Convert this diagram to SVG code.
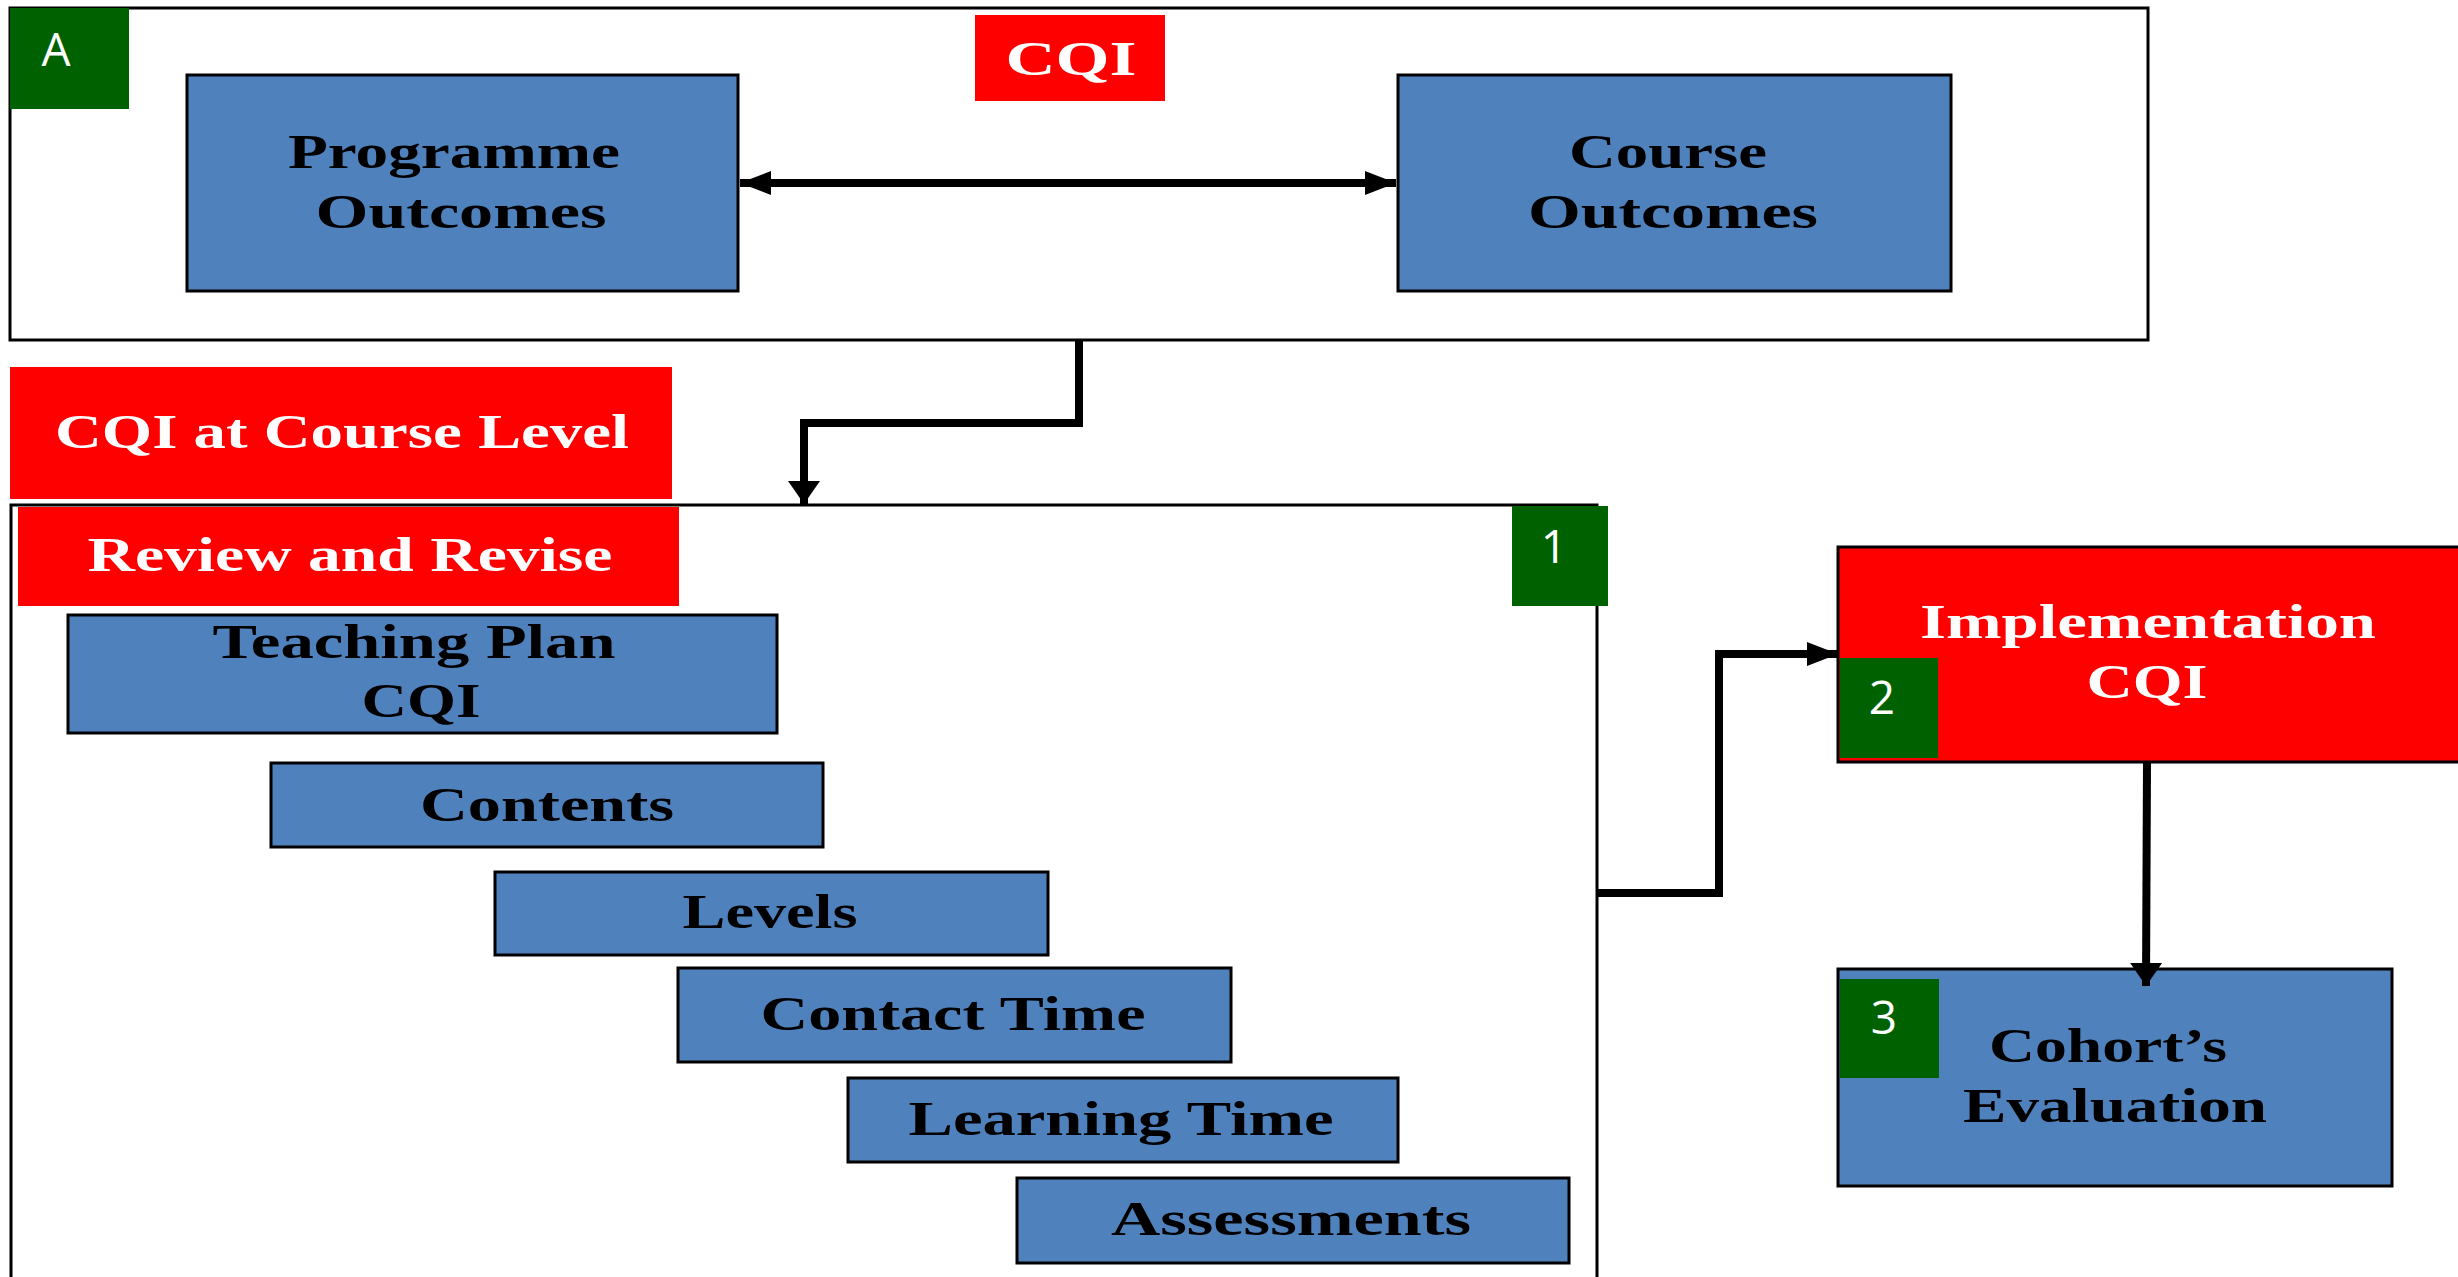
<svg xmlns="http://www.w3.org/2000/svg" width="2458" height="1277" viewBox="0 0 2458 1277">
<style>
.frame{fill:#fff;stroke:#000;stroke-width:3}
.blue{fill:#4F81BD;stroke:#000;stroke-width:3}
.red{fill:#FF0000}
.redb{fill:#FF0000;stroke:#000;stroke-width:3}
.green{fill:#006100}
.t{font-family:"Liberation Serif",serif;font-weight:bold;font-size:49px;fill:#000;text-anchor:middle}
.w{fill:#FFFDFD;font-weight:bold}
.g{font-family:"Open Sans","Liberation Sans",sans-serif;font-size:46px;fill:#fff;text-anchor:middle}
.c{fill:none;stroke:#000;stroke-width:8}
</style>
<defs>
<marker id="ah" markerUnits="userSpaceOnUse" markerWidth="32" markerHeight="26" refX="31" refY="13" orient="auto-start-reverse">
<path d="M0,1 L31,13 L0,25 Z" fill="#000"/>
</marker>
<marker id="ahs" markerUnits="userSpaceOnUse" markerWidth="24" markerHeight="34" refX="23" refY="17" orient="auto">
<path d="M0,1 L23,17 L0,33 Z" fill="#000"/>
</marker>
</defs>
<rect width="2458" height="1277" fill="#fff"/>
<g id="frameA">
<rect class="frame" x="10" y="8" width="2138" height="332"/>
<rect class="green" x="10" y="8" width="119" height="101"/>
<text class="g" x="56" y="66">A</text>
</g>
<g id="cqi-top">
<rect class="red" x="975" y="15" width="190" height="86"/>
<text class="t w" x="1071" y="75" textLength="131" lengthAdjust="spacingAndGlyphs">CQI</text>
</g>
<g id="programme-outcomes">
<rect class="blue" x="187" y="75" width="551" height="216"/>
<text class="t" x="454" y="168" textLength="332" lengthAdjust="spacingAndGlyphs">Programme</text>
<text class="t" x="461" y="228" textLength="291" lengthAdjust="spacingAndGlyphs">Outcomes</text>
</g>
<g id="course-outcomes">
<rect class="blue" x="1398" y="75" width="553" height="216"/>
<text class="t" x="1668" y="168" textLength="198" lengthAdjust="spacingAndGlyphs">Course</text>
<text class="t" x="1673" y="228" textLength="290" lengthAdjust="spacingAndGlyphs">Outcomes</text>
</g>
<g id="cqi-course-level">
<rect class="red" x="10" y="367" width="662" height="132"/>
<text class="t w" x="342" y="448" textLength="574" lengthAdjust="spacingAndGlyphs">CQI at Course Level</text>
</g>
<g id="box1">
<rect class="frame" x="11" y="505" width="1586" height="800"/>
<rect class="red" x="18" y="507" width="661" height="99"/>
<text class="t w" x="350" y="571" textLength="525" lengthAdjust="spacingAndGlyphs">Review and Revise</text>
<rect class="green" x="1512" y="506" width="96" height="100"/>
<text class="g" x="1554" y="563">1</text>
</g>
<g id="teaching-plan">
<rect class="blue" x="68" y="615" width="709" height="118"/>
<text class="t" x="414" y="658" textLength="403" lengthAdjust="spacingAndGlyphs">Teaching Plan</text>
<text class="t" x="421" y="717" textLength="119" lengthAdjust="spacingAndGlyphs">CQI</text>
</g>
<g id="contents">
<rect class="blue" x="271" y="763" width="552" height="84"/>
<text class="t" x="547" y="821" textLength="254" lengthAdjust="spacingAndGlyphs">Contents</text>
</g>
<g id="levels">
<rect class="blue" x="495" y="872" width="553" height="83"/>
<text class="t" x="770" y="928" textLength="175" lengthAdjust="spacingAndGlyphs">Levels</text>
</g>
<g id="contact-time">
<rect class="blue" x="678" y="968" width="553" height="94"/>
<text class="t" x="953" y="1030" textLength="385" lengthAdjust="spacingAndGlyphs">Contact Time</text>
</g>
<g id="learning-time">
<rect class="blue" x="848" y="1078" width="550" height="84"/>
<text class="t" x="1121" y="1135" textLength="425" lengthAdjust="spacingAndGlyphs">Learning Time</text>
</g>
<g id="assessments">
<rect class="blue" x="1017" y="1178" width="552" height="85"/>
<text class="t" x="1291" y="1235" textLength="360" lengthAdjust="spacingAndGlyphs">Assessments</text>
</g>
<g id="implementation">
<rect class="redb" x="1838" y="547" width="622" height="215"/>
<text class="t w" x="2148" y="638" textLength="456" lengthAdjust="spacingAndGlyphs">Implementation</text>
<text class="t w" x="2147" y="698" textLength="121" lengthAdjust="spacingAndGlyphs">CQI</text>
<rect class="green" x="1840" y="658" width="98" height="100"/>
<text class="g" x="1882" y="714">2</text>
</g>
<g id="cohort">
<rect class="blue" x="1838" y="969" width="554" height="217"/>
<rect class="green" x="1840" y="979" width="99" height="99"/>
<text class="g" x="1884" y="1034">3</text>
<text class="t" x="2108" y="1062" textLength="238" lengthAdjust="spacingAndGlyphs">Cohort’s</text>
<text class="t" x="2115" y="1122" textLength="304" lengthAdjust="spacingAndGlyphs">Evaluation</text>
</g>
<g id="connectors">
<line class="c" x1="740" y1="183" x2="1396" y2="183" stroke-width="7" marker-start="url(#ah)" marker-end="url(#ah)"/>
<path class="c" d="M1079,341 V423 H804 V504" marker-end="url(#ahs)"/>
<path class="c" d="M1598,893 H1719 V654 H1838" marker-end="url(#ah)"/>
<path class="c" d="M2147,763 L2146,986" marker-end="url(#ahs)"/>
</g>
</svg>
